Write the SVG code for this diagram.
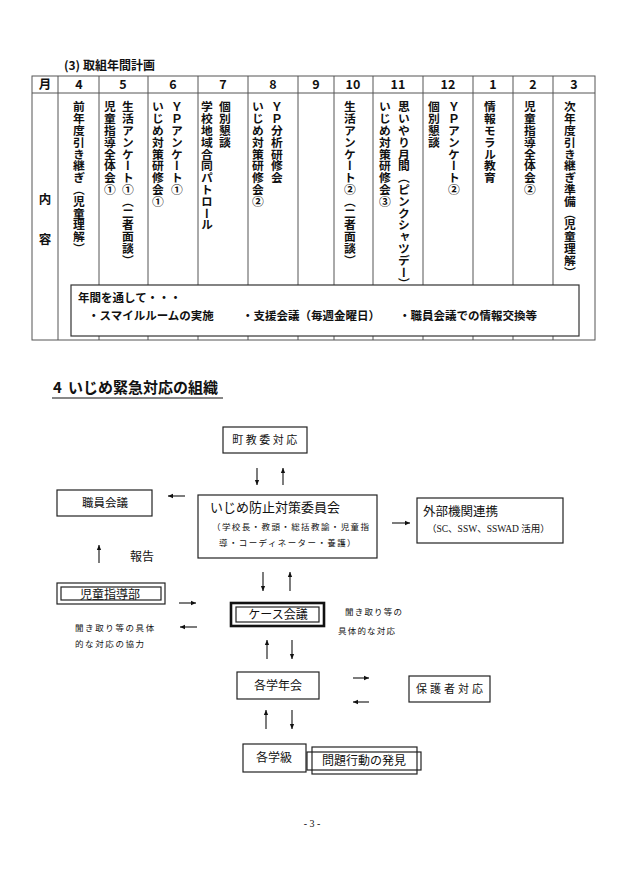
<svg xmlns="http://www.w3.org/2000/svg" width="625" height="884" viewBox="0 0 625 884">
<style>
.tl{stroke:#555;stroke-width:1;fill:none}
.bx{stroke:#222;stroke-width:1.2;fill:#fff}
.b{font-family:"Noto Sans CJK JP","Noto Sans",sans-serif;font-weight:bold;fill:#111}
.h{font-size:12.5px;text-anchor:middle}
.v{font-size:11.8px;writing-mode:vertical-rl}
.g{font-family:"Noto Sans CJK JP","Noto Sans",sans-serif;fill:#111}
.m{font-family:"Liberation Serif","Noto Sans CJK JP",serif;fill:#111}
.c{text-anchor:middle}
.ar{stroke:#111;stroke-width:1.1;fill:none;marker-end:url(#ah)}
</style>
<defs>
<marker id="ah" viewBox="0 0 8 8" refX="7" refY="4" markerWidth="6" markerHeight="6" orient="auto" markerUnits="userSpaceOnUse">
<path d="M0,1 L7,4 L0,7 Z" fill="#111"/>
</marker>
</defs>
<rect width="625" height="884" fill="#fff"/>

<g id="table">
<text class="b" x="64" y="70" font-size="12">(3) 取組年間計画</text>
<rect class="tl" x="32" y="76" width="563" height="264"/>
<line class="tl" x1="32" y1="93" x2="595" y2="93"/>
<path class="tl" d="M58,76V340M99,76V340M148,76V340M198,76V340M248,76V340M298,76V340M334,76V340M373,76V340M423,76V340M473,76V340M513,76V340M553,76V340"/>
<text class="b h" x="45" y="89">月</text>
<text class="b h" x="79" y="89">4</text>
<text class="b h" x="123" y="89">5</text>
<text class="b h" x="173" y="89">6</text>
<text class="b h" x="223" y="89">7</text>
<text class="b h" x="273" y="89">8</text>
<text class="b h" x="316" y="89">9</text>
<text class="b h" x="353" y="89">10</text>
<text class="b h" x="398" y="89">11</text>
<text class="b h" x="448" y="89">12</text>
<text class="b h" x="493" y="89">1</text>
<text class="b h" x="533" y="89">2</text>
<text class="b h" x="574" y="89">3</text>
<text class="b h" x="45" y="204">内</text>
<text class="b h" x="45" y="244">容</text>

<text class="b v" x="79" y="101">前年度引き継ぎ（児童理解）</text>
<text class="b v" x="128" y="101">生活アンケート①（二者面談）</text>
<text class="b v" x="110" y="101">児童指導全体会①</text>
<text class="b v" x="177" y="101">ＹＰアンケート①</text>
<text class="b v" x="158" y="101">いじめ対策研修会①</text>
<text class="b v" x="225" y="101">個別懇談</text>
<text class="b v" x="207" y="101">学校地域合同パトロール</text>
<text class="b v" x="277" y="101">ＹＰ分析研修会</text>
<text class="b v" x="258" y="101">いじめ対策研修会②</text>
<text class="b v" x="350" y="101">生活アンケート②（二者面談）</text>
<text class="b v" x="404" y="101">思いやり月間（ピンクシャツデー）</text>
<text class="b v" x="385" y="101">いじめ対策研修会③</text>
<text class="b v" x="454" y="101">ＹＰアンケート②</text>
<text class="b v" x="434" y="101">個別懇談</text>
<text class="b v" x="490" y="101">情報モラル教育</text>
<text class="b v" x="530" y="101">児童指導全体会②</text>
<text class="b v" x="570" y="101">次年度引き継ぎ準備（児童理解）</text>

<rect x="71" y="285" width="508" height="51" fill="#fff" stroke="#333" stroke-width="1.2"/>
<text class="b" x="78" y="302" font-size="11.5">年間を通して・・・</text>
<text class="b" x="88" y="320" font-size="11.5">・スマイルルームの実施</text>
<text class="b" x="242" y="320" font-size="11.5">・支援会議（毎週金曜日）</text>
<text class="b" x="399" y="320" font-size="11.5">・職員会議での情報交換等</text>
</g>

<g id="heading">
<text class="b" x="53" y="393" font-size="15">4</text>
<text class="b" x="68" y="393" font-size="15">いじめ緊急対応の組織</text>
<line x1="52" y1="398" x2="223" y2="398" stroke="#111" stroke-width="1.2"/>
</g>

<g id="connectors">
<path class="ar" d="M257,468V485"/>
<path class="ar" d="M283,485V468"/>
<path class="ar" d="M185,496H168"/>
<path class="ar" d="M392,523H410"/>
<path class="ar" d="M99,563V545"/>
<path class="ar" d="M263,572V591"/>
<path class="ar" d="M290,591V572"/>
<path class="ar" d="M179,603H196"/>
<path class="ar" d="M197,627H180"/>
<path class="ar" d="M267,659V640"/>
<path class="ar" d="M292,640V659"/>
<path class="ar" d="M353,678H369"/>
<path class="ar" d="M369,702H353"/>
<path class="ar" d="M266,729V710"/>
<path class="ar" d="M292,710V729"/>
</g>

<g id="n-chokyoi">
<rect class="bx" x="223" y="427" width="84" height="26"/>
<text class="g c" x="266" y="444" font-size="11" letter-spacing="2.5">町教委対応</text>
</g>

<g id="n-iinkai">
<rect class="bx" x="198" y="495" width="179" height="63"/>
<text class="g" x="210" y="512" font-size="13">いじめ防止対策委員会</text>
<text class="g" x="212" y="530" font-size="8.5" letter-spacing="1.4">（学校長・教頭・総括教諭・児童指</text>
<text class="g" x="219" y="546" font-size="8.5" letter-spacing="1.4">導・コーディネーター・養護）</text>
</g>

<g id="n-gaibu">
<rect class="bx" x="417" y="498" width="146" height="45"/>
<text class="g" x="423" y="516" font-size="12.5">外部機関連携</text>
<text class="m" x="427" y="532" font-size="9.5">（SC、SSW、SSWAD 活用）</text>
</g>

<g id="n-shokuin">
<rect class="bx" x="57" y="490" width="95" height="26"/>
<text class="g c" x="105" y="507" font-size="11.5">職員会議</text>
</g>

<g id="n-hokoku">
<text class="g" x="130" y="561" font-size="12">報告</text>
</g>

<g id="n-jidoshido">
<rect class="bx" x="57" y="583" width="108" height="21"/>
<rect class="bx" x="61" y="587" width="100" height="13"/>
<text class="g c" x="110" y="599" font-size="12">児童指導部</text>
<text class="g" x="75" y="631" font-size="8.5" letter-spacing="1.6">聞き取り等の具体</text>
<text class="g" x="75" y="647" font-size="8.5" letter-spacing="1.6">的な対応の協力</text>
</g>

<g id="n-case">
<rect x="231" y="603" width="93" height="23" fill="#fff" stroke="#111" stroke-width="2.6"/>
<rect class="bx" x="236" y="607" width="83" height="15"/>
<text class="g c" x="278" y="619" font-size="12">ケース会議</text>
<text class="g" x="345" y="615" font-size="8.5" letter-spacing="1.2">聞き取り等の</text>
<text class="g" x="338" y="634" font-size="8.5" letter-spacing="1.2">具体的な対応</text>
</g>

<g id="n-gakunen">
<rect class="bx" x="237" y="672" width="82" height="27"/>
<text class="g c" x="278" y="690" font-size="12">各学年会</text>
</g>

<g id="n-hogosha">
<rect class="bx" x="409" y="676" width="81" height="26"/>
<text class="g c" x="451" y="693" font-size="11" letter-spacing="3">保護者対応</text>
</g>

<g id="n-gakkyu">
<rect class="bx" x="243" y="744" width="63" height="28"/>
<text class="g c" x="274" y="762" font-size="12">各学級</text>
</g>

<g id="n-hakken">
<rect class="bx" x="307" y="752" width="114" height="18"/>
<rect x="312" y="747" width="105" height="27" fill="none" stroke="#222" stroke-width="1.2"/>
<text class="g c" x="364" y="765" font-size="12">問題行動の発見</text>
</g>

<g id="page">
<text class="m c" x="312" y="827" font-size="10">- 3 -</text>
</g>
</svg>
